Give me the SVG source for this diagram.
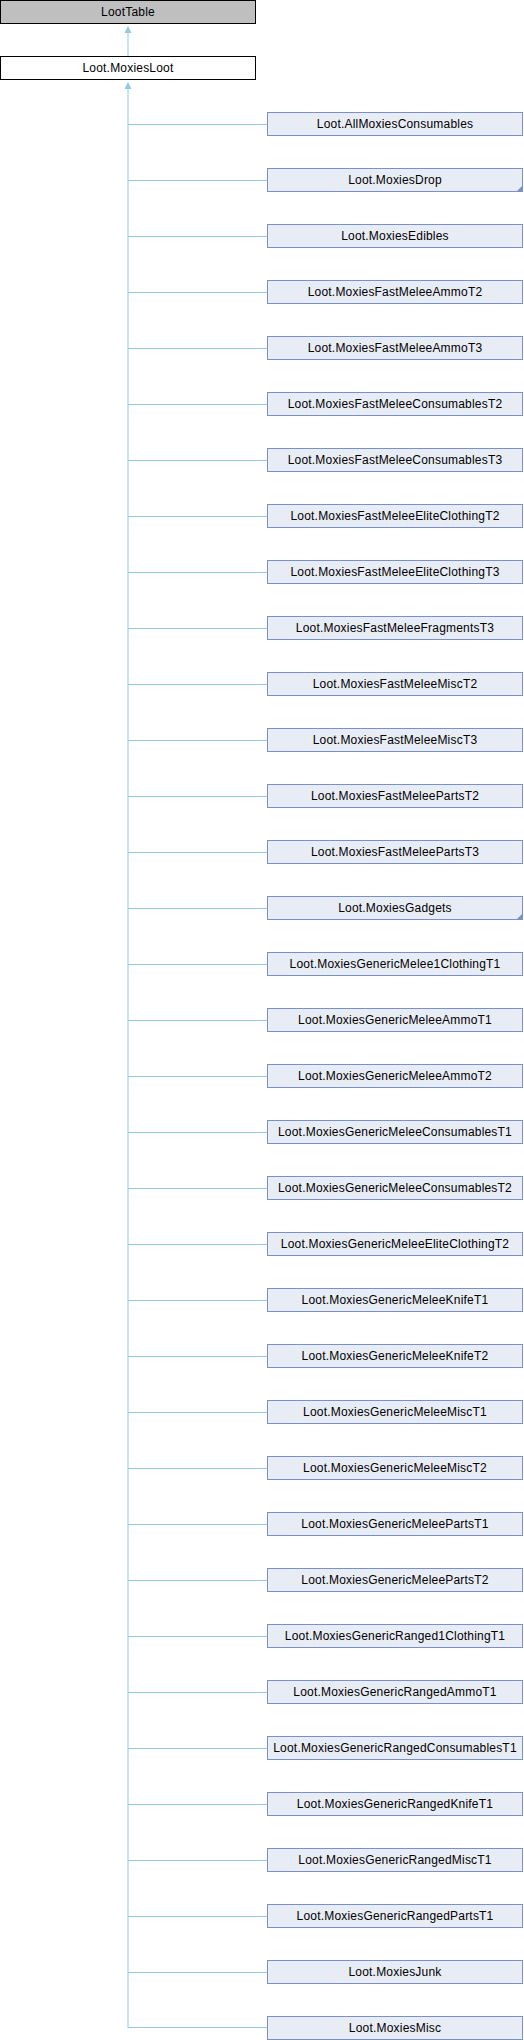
<svg xmlns="http://www.w3.org/2000/svg" width="524" height="2040" viewBox="0 0 524 2040">
<style>
.b{fill:#E8ECF5;stroke:#7A91C8;stroke-width:1}
.r{fill:#BFBFBF;stroke:#000;stroke-width:1}
.w{fill:#FFFFFF;stroke:#000;stroke-width:1}
.t{font-family:"Liberation Sans",Arial,sans-serif;font-size:12px;letter-spacing:0.2px;fill:#000;text-anchor:middle}
.e{stroke:#8ECAEC;stroke-width:1;fill:none}
.a{fill:#8ECAEC}
.c{fill:#7A91C8}
</style>
<rect width="524" height="2040" fill="#FFFFFF"/>
<g id="connectors">
<line class="e" x1="128" y1="30" x2="128" y2="56"/>
<polygon class="a" points="128,26 124.5,33 131.5,33"/>
<line class="e" x1="128" y1="86" x2="128" y2="2028"/>
<polygon class="a" points="128,82 124.5,89 131.5,89"/>
<path class="e" d="M128,124.5H267M128,180.5H267M128,236.5H267M128,292.5H267M128,348.5H267M128,404.5H267M128,460.5H267M128,516.5H267M128,572.5H267M128,628.5H267M128,684.5H267M128,740.5H267M128,796.5H267M128,852.5H267M128,908.5H267M128,964.5H267M128,1020.5H267M128,1076.5H267M128,1132.5H267M128,1188.5H267M128,1244.5H267M128,1300.5H267M128,1356.5H267M128,1412.5H267M128,1468.5H267M128,1524.5H267M128,1580.5H267M128,1636.5H267M128,1692.5H267M128,1748.5H267M128,1804.5H267M128,1860.5H267M128,1916.5H267M128,1972.5H267M128,2027.5H267"/>
</g>
<g id="LootTable"><rect class="r" x="0.5" y="0.5" width="255" height="23"/><text class="t" x="128" y="15.5">LootTable</text></g>
<g id="MoxiesLoot"><rect class="w" x="0.5" y="56.5" width="255" height="23"/><text class="t" x="128" y="71.5">Loot.MoxiesLoot</text></g>
<g id="n1"><rect class="b" x="267.5" y="112.5" width="255" height="23"/><text class="t" x="395" y="127.5">Loot.AllMoxiesConsumables</text></g>
<g id="n2"><rect class="b" x="267.5" y="168.5" width="255" height="23"/><polygon class="c" points="523,185 523,192 516,192"/><text class="t" x="395" y="183.5">Loot.MoxiesDrop</text></g>
<g id="n3"><rect class="b" x="267.5" y="224.5" width="255" height="23"/><text class="t" x="395" y="239.5">Loot.MoxiesEdibles</text></g>
<g id="n4"><rect class="b" x="267.5" y="280.5" width="255" height="23"/><text class="t" x="395" y="295.5">Loot.MoxiesFastMeleeAmmoT2</text></g>
<g id="n5"><rect class="b" x="267.5" y="336.5" width="255" height="23"/><text class="t" x="395" y="351.5">Loot.MoxiesFastMeleeAmmoT3</text></g>
<g id="n6"><rect class="b" x="267.5" y="392.5" width="255" height="23"/><text class="t" x="395" y="407.5">Loot.MoxiesFastMeleeConsumablesT2</text></g>
<g id="n7"><rect class="b" x="267.5" y="448.5" width="255" height="23"/><text class="t" x="395" y="463.5">Loot.MoxiesFastMeleeConsumablesT3</text></g>
<g id="n8"><rect class="b" x="267.5" y="504.5" width="255" height="23"/><text class="t" x="395" y="519.5">Loot.MoxiesFastMeleeEliteClothingT2</text></g>
<g id="n9"><rect class="b" x="267.5" y="560.5" width="255" height="23"/><text class="t" x="395" y="575.5">Loot.MoxiesFastMeleeEliteClothingT3</text></g>
<g id="n10"><rect class="b" x="267.5" y="616.5" width="255" height="23"/><text class="t" x="395" y="631.5">Loot.MoxiesFastMeleeFragmentsT3</text></g>
<g id="n11"><rect class="b" x="267.5" y="672.5" width="255" height="23"/><text class="t" x="395" y="687.5">Loot.MoxiesFastMeleeMiscT2</text></g>
<g id="n12"><rect class="b" x="267.5" y="728.5" width="255" height="23"/><text class="t" x="395" y="743.5">Loot.MoxiesFastMeleeMiscT3</text></g>
<g id="n13"><rect class="b" x="267.5" y="784.5" width="255" height="23"/><text class="t" x="395" y="799.5">Loot.MoxiesFastMeleePartsT2</text></g>
<g id="n14"><rect class="b" x="267.5" y="840.5" width="255" height="23"/><text class="t" x="395" y="855.5">Loot.MoxiesFastMeleePartsT3</text></g>
<g id="n15"><rect class="b" x="267.5" y="896.5" width="255" height="23"/><polygon class="c" points="523,913 523,920 516,920"/><text class="t" x="395" y="911.5">Loot.MoxiesGadgets</text></g>
<g id="n16"><rect class="b" x="267.5" y="952.5" width="255" height="23"/><text class="t" x="395" y="967.5">Loot.MoxiesGenericMelee1ClothingT1</text></g>
<g id="n17"><rect class="b" x="267.5" y="1008.5" width="255" height="23"/><text class="t" x="395" y="1023.5">Loot.MoxiesGenericMeleeAmmoT1</text></g>
<g id="n18"><rect class="b" x="267.5" y="1064.5" width="255" height="23"/><text class="t" x="395" y="1079.5">Loot.MoxiesGenericMeleeAmmoT2</text></g>
<g id="n19"><rect class="b" x="267.5" y="1120.5" width="255" height="23"/><text class="t" x="395" y="1135.5">Loot.MoxiesGenericMeleeConsumablesT1</text></g>
<g id="n20"><rect class="b" x="267.5" y="1176.5" width="255" height="23"/><text class="t" x="395" y="1191.5">Loot.MoxiesGenericMeleeConsumablesT2</text></g>
<g id="n21"><rect class="b" x="267.5" y="1232.5" width="255" height="23"/><text class="t" x="395" y="1247.5">Loot.MoxiesGenericMeleeEliteClothingT2</text></g>
<g id="n22"><rect class="b" x="267.5" y="1288.5" width="255" height="23"/><text class="t" x="395" y="1303.5">Loot.MoxiesGenericMeleeKnifeT1</text></g>
<g id="n23"><rect class="b" x="267.5" y="1344.5" width="255" height="23"/><text class="t" x="395" y="1359.5">Loot.MoxiesGenericMeleeKnifeT2</text></g>
<g id="n24"><rect class="b" x="267.5" y="1400.5" width="255" height="23"/><text class="t" x="395" y="1415.5">Loot.MoxiesGenericMeleeMiscT1</text></g>
<g id="n25"><rect class="b" x="267.5" y="1456.5" width="255" height="23"/><text class="t" x="395" y="1471.5">Loot.MoxiesGenericMeleeMiscT2</text></g>
<g id="n26"><rect class="b" x="267.5" y="1512.5" width="255" height="23"/><text class="t" x="395" y="1527.5">Loot.MoxiesGenericMeleePartsT1</text></g>
<g id="n27"><rect class="b" x="267.5" y="1568.5" width="255" height="23"/><text class="t" x="395" y="1583.5">Loot.MoxiesGenericMeleePartsT2</text></g>
<g id="n28"><rect class="b" x="267.5" y="1624.5" width="255" height="23"/><text class="t" x="395" y="1639.5">Loot.MoxiesGenericRanged1ClothingT1</text></g>
<g id="n29"><rect class="b" x="267.5" y="1680.5" width="255" height="23"/><text class="t" x="395" y="1695.5">Loot.MoxiesGenericRangedAmmoT1</text></g>
<g id="n30"><rect class="b" x="267.5" y="1736.5" width="255" height="23"/><text class="t" x="395" y="1751.5">Loot.MoxiesGenericRangedConsumablesT1</text></g>
<g id="n31"><rect class="b" x="267.5" y="1792.5" width="255" height="23"/><text class="t" x="395" y="1807.5">Loot.MoxiesGenericRangedKnifeT1</text></g>
<g id="n32"><rect class="b" x="267.5" y="1848.5" width="255" height="23"/><text class="t" x="395" y="1863.5">Loot.MoxiesGenericRangedMiscT1</text></g>
<g id="n33"><rect class="b" x="267.5" y="1904.5" width="255" height="23"/><text class="t" x="395" y="1919.5">Loot.MoxiesGenericRangedPartsT1</text></g>
<g id="n34"><rect class="b" x="267.5" y="1960.5" width="255" height="23"/><text class="t" x="395" y="1975.5">Loot.MoxiesJunk</text></g>
<g id="n35"><rect class="b" x="267.5" y="2016.5" width="255" height="23"/><text class="t" x="395" y="2031.5">Loot.MoxiesMisc</text></g>
</svg>
